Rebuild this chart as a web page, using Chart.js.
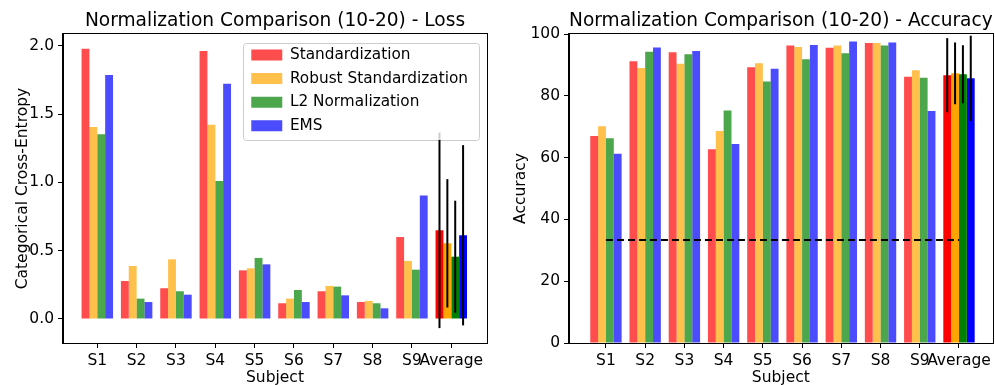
<!DOCTYPE html>
<html>
<head>
<meta charset="utf-8">
<script src="https://cdn.jsdelivr.net/npm/chart.js@4"></script>
<style>
  html, body { margin: 0; padding: 0; background: #fff; }
  #wrap { position: relative; width: 995px; height: 385px; }
  canvas { position: absolute; top: 0; }
  #loss { left: 0; }
  #acc { left: 497px; }
</style>
</head>
<body>
<div id="wrap">
  <canvas id="loss" width="497" height="385"></canvas>
  <canvas id="acc" width="498" height="385"></canvas>
</div>
<script>
const subjects = ["S1", "S2", "S3", "S4", "S5", "S6", "S7", "S8", "S9", "Average"];
const methods = ["Standardization", "Robust Standardization", "L2 Normalization", "EMS"];

// loss per subject, last entry = average
const lossStandardization = [1.979, 0.278, 0.225, 1.962, 0.356, 0.115, 0.203, 0.124, 0.600, 0.649];
const lossRobust = [1.406, 0.388, 0.437, 1.422, 0.371, 0.149, 0.242, 0.132, 0.425, 0.554];
const lossL2 = [1.352, 0.149, 0.203, 1.010, 0.447, 0.212, 0.237, 0.115, 0.361, 0.456];
const lossEMS = [1.786, 0.124, 0.178, 1.722, 0.400, 0.124, 0.173, 0.078, 0.905, 0.613];
const lossStd = [0.716, 0.470, 0.410, 0.660];
const lossTicks = [0, 0.5, 1.0, 1.5, 2.0];

// accuracy per subject, last entry = average
const accStandardization = [67.0, 91.2, 94.1, 62.7, 89.3, 96.3, 95.6, 97.1, 86.2, 86.7];
const accRobust = [70.2, 89.0, 90.4, 68.6, 90.6, 95.8, 96.3, 97.1, 88.3, 87.3];
const accL2 = [66.3, 94.3, 93.5, 75.3, 84.7, 91.9, 93.8, 96.3, 85.9, 87.0];
const accEMS = [61.3, 95.7, 94.5, 64.4, 88.8, 96.5, 97.6, 97.3, 75.1, 85.7];
const accStd = [12.0, 10.0, 9.4, 13.8];
const accTicks = [0, 20, 40, 60, 80, 100];
const chanceLevel = 33.33;

const fills = ["rgba(255,0,0,0.7)", "rgba(255,165,0,0.7)", "rgba(0,128,0,0.7)", "rgba(0,0,255,0.7)"];
const solids = ["#ff0000", "#ffa500", "#008000", "#0000ff"];
const FONT = "'DejaVu Sans', sans-serif";
const AXIS_FONT = 15.5;

Chart.defaults.font.family = FONT;
Chart.defaults.color = "#000";
Chart.defaults.animation = false;

function barSets(series) {
  return series.map((vals, i) => ({
    type: "bar",
    label: methods[i],
    data: vals.map((v, j) => ({ x: j, y: v })),
    backgroundColor: c => c.dataIndex === subjects.length - 1 ? solids[i] : fills[i],
    borderWidth: 0,
    categoryPercentage: 0.8,
    barPercentage: 1
  }));
}

function xScale(min, max) {
  return {
    type: "linear", min, max, offset: false,
    grid: { offset: false, drawOnChartArea: false, tickLength: 5, color: "#000" },
    border: { color: "#000" },
    afterBuildTicks: s => { s.ticks = subjects.map((_, i) => ({ value: i })); },
    afterFit: s => { s.height = 42; },
    ticks: { autoSkip: false, maxRotation: 0, minRotation: 0, padding: 4, font: { size: AXIS_FONT }, callback: (v, i) => subjects[i] },
    title: { display: true, text: "Subject", font: { size: AXIS_FONT }, padding: { top: 0, bottom: -2 } }
  };
}

function yScale(min, max, tickVals, decimals, label, padTop, width) {
  return {
    min, max,
    grid: { drawOnChartArea: false, tickLength: 5, color: "#000" },
    border: { color: "#000" },
    afterBuildTicks: s => { s.ticks = tickVals.map(v => ({ value: v })); },
    afterFit: s => { s.width = width; },
    ticks: { padding: 4, font: { size: AXIS_FONT }, callback: v => v.toFixed(decimals) },
    title: { display: true, text: label, font: { size: AXIS_FONT }, padding: { top: padTop, bottom: 0 } }
  };
}

// box around the plot area (matplotlib spines)
const spines = {
  id: "spines",
  afterDraw(chart) {
    const { ctx, chartArea: a } = chart;
    ctx.save();
    ctx.strokeStyle = "#000";
    ctx.lineWidth = 1;
    ctx.strokeRect(Math.round(a.left) - 0.5, Math.round(a.top) - 0.5, Math.round(a.right - a.left) + 1, Math.round(a.bottom - a.top) + 1);
    ctx.restore();
  }
};

// legend sits inside the plot, upper right, with a light frame
const legendFrame = {
  id: "legendFrame",
  afterLayout(chart) {
    const lg = chart.legend, a = chart.chartArea;
    if (!lg || !lg.options.display) return;
    const lab = lg.options.labels;
    const ctx = chart.ctx;
    ctx.save();
    ctx.font = lab.font.size + "px " + FONT;
    const textW = Math.max(...methods.map(m => ctx.measureText(m).width));
    ctx.restore();
    const top = a.top + 8.7;
    const right = a.right - 8.7;
    const patchLeft = right - 10.3 - textW - lab.font.size / 2 - lab.boxWidth;
    const n = methods.length;
    const h = 4.5 + n * lab.font.size + (n - 1) * lab.padding + 6.5;
    chart.$legendFrame = { left: patchLeft - 8.5, right, top, bottom: top + h };
    lg.left = patchLeft - lab.padding;
    lg.top = top + 4.5 - lab.padding;
    lg.right = right;
    lg.bottom = a.bottom;
    lg.width = lg.right - lg.left;
    lg.height = lg.bottom - lg.top;
  },
  beforeDraw(chart) {
    const f = chart.$legendFrame;
    if (!f) return;
    const ctx = chart.ctx;
    ctx.save();
    ctx.fillStyle = "#fff";
    ctx.strokeStyle = "#cccccc";
    ctx.lineWidth = 1;
    ctx.beginPath();
    ctx.roundRect(Math.round(f.left) + 0.5, Math.round(f.top) + 0.5, Math.round(f.right - f.left), Math.round(f.bottom - f.top), 3);
    ctx.fill();
    ctx.stroke();
    ctx.restore();
  }
};

// error bars on the average group (opts.first = index of the first bar dataset)
const errorBars = {
  id: "errorBars",
  afterDatasetsDraw(chart, args, opts) {
    const { ctx } = chart;
    const y = chart.scales.y;
    const last = subjects.length - 1;
    const f = chart.$legendFrame;
    opts.std.forEach((sd, i) => {
      const k = i + opts.first;
      const bar = chart.getDatasetMeta(k).data[last];
      const mean = chart.data.datasets[k].data[last].y;
      const top = y.getPixelForValue(mean + sd);
      const bottom = y.getPixelForValue(mean - sd);
      ctx.save();
      ctx.lineWidth = 2;
      const inFrame = f && bar.x > f.left && bar.x < f.right && top < f.bottom;
      ctx.strokeStyle = "#000";
      ctx.beginPath();
      ctx.moveTo(bar.x, bottom);
      ctx.lineTo(bar.x, inFrame ? f.bottom : top);
      ctx.stroke();
      if (inFrame) {
        // seen through the semi-transparent legend
        ctx.strokeStyle = "#cccccc";
        ctx.beginPath();
        ctx.moveTo(bar.x, f.bottom);
        ctx.lineTo(bar.x, top);
        ctx.stroke();
      }
      ctx.restore();
    });
  }
};

new Chart(document.getElementById("loss"), {
  type: "bar",
  data: { datasets: barSets([lossStandardization, lossRobust, lossL2, lossEMS]) },
  options: {
    responsive: false,
    layout: { padding: { left: 0, right: 10, top: 0, bottom: 0 } },
    scales: {
      x: xScale(-0.872, 9.908),
      y: yScale(-0.176, 2.086, lossTicks, 1, "Categorical Cross-Entropy", 13.7, 63)
    },
    plugins: {
      title: { display: true, text: "Normalization Comparison (10-20) - Loss", fullSize: false, color: "#000",
        font: { size: 18.6, weight: "normal" }, padding: { top: 9.8, bottom: 2 } },
      legend: { position: "chartArea", align: "start",
        labels: { boxWidth: 31, boxHeight: 11, padding: 8.3, color: "#000", font: { size: 15.3 } } },
      tooltip: { enabled: false },
      errorBars: { std: lossStd, first: 0 }
    }
  },
  plugins: [legendFrame, errorBars, spines]
});

new Chart(document.getElementById("acc"), {
  type: "bar",
  data: {
    datasets: [
      { type: "line", label: "Chance", order: -1, data: [{ x: 0, y: chanceLevel }, { x: subjects.length - 1, y: chanceLevel }],
        borderColor: "#000", borderWidth: 2, borderDash: [7, 4], pointRadius: 0, fill: false },
      ...barSets([accStandardization, accRobust, accL2, accEMS])
    ]
  },
  options: {
    responsive: false,
    layout: { padding: { left: 0, right: 2, top: 0, bottom: 0 } },
    scales: {
      x: xScale(-0.942, 9.858),
      y: yScale(0, 100, accTicks, 0, "Accuracy", 14.7, 72)
    },
    plugins: {
      title: { display: true, text: "Normalization Comparison (10-20) - Accuracy", fullSize: false, color: "#000",
        font: { size: 18.6, weight: "normal" }, padding: { top: 9.8, bottom: 2 } },
      legend: { display: false },
      tooltip: { enabled: false },
      errorBars: { std: accStd, first: 1 }
    }
  },
  plugins: [errorBars, spines]
});
</script>
</body>
</html>
